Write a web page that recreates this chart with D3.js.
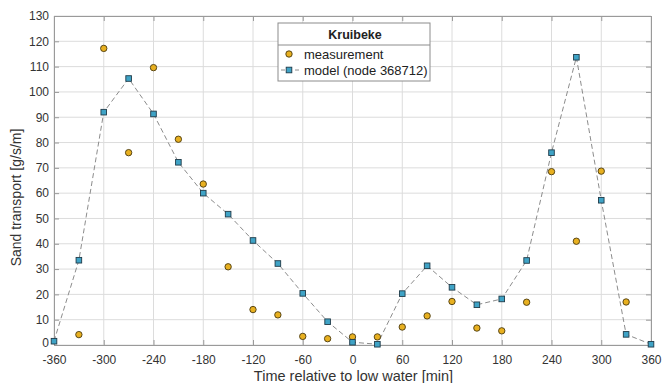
<!DOCTYPE html>
<html><head><meta charset="utf-8">
<script src="https://cdn.jsdelivr.net/npm/d3@7"></script>
<style>body{margin:0;background:#fff}svg{display:block;font-family:"Liberation Sans",Arial,sans-serif}</style>
</head><body><svg id="c" width="671" height="383"></svg>
<script>
const modelTimes = [-360,-330,-300,-270,-240,-210,-180,-150,-120,-90,-60,-30,0,30,60,90,120,150,180,210,240,270,300,330,360];
const modelValues = [1.5,33.5,92,105.3,91.3,72.2,60,51.7,41.3,32.2,20.4,9.2,1.1,0.3,20.3,31.3,22.8,15.9,18.2,33.4,76,113.7,57.2,4.2,0.3];
const measTimes = [-330,-300,-270,-240,-210,-180,-150,-120,-90,-60,-30,0,30,60,90,120,150,180,210,240,270,300,330];
const measValues = [4.1,117.2,76,109.6,81.3,63.6,30.9,14,11.9,3.4,2.5,3.2,3.2,7.1,11.5,17.2,6.7,5.6,16.9,68.5,41,68.7,17];
const xTicks = [-360,-300,-240,-180,-120,-60,0,60,120,180,240,300,360];
const yTicks = [0,10,20,30,40,50,60,70,80,90,100,110,120,130];
const legendTitle = "Kruibeke";
const legendLabels = ["measurement","model (node 368712)"];

const svg = d3.select("#c");
const L=54, R=651, T=16, B=345;
const x = d3.scaleLinear().domain([-360,360]).range([L,R]);
const y = d3.scaleLinear().domain([0,130]).range([B,T]);
const gridC="#dcdcdc", axC="#9a9a9a", txtC="#333";
const fmt = d => String(d);

// grid
svg.append("g").selectAll("line").data(xTicks).join("line")
  .attr("x1",d=>x(d)).attr("x2",d=>x(d)).attr("y1",T).attr("y2",B).attr("stroke",gridC).attr("stroke-width",1);
svg.append("g").selectAll("line").data(yTicks).join("line")
  .attr("x1",L).attr("x2",R).attr("y1",d=>y(d)).attr("y2",d=>y(d)).attr("stroke",gridC).attr("stroke-width",1);

// axes
const ax = svg.append("g").attr("transform",`translate(0,${B})`)
  .call(d3.axisBottom(x).tickValues(xTicks).tickSize(-5).tickPadding(10).tickFormat(fmt));
const ay = svg.append("g").attr("transform",`translate(${L},0)`)
  .call(d3.axisLeft(y).tickValues(yTicks).tickSize(-5).tickPadding(5).tickFormat(fmt));
const axT = svg.append("g").attr("transform",`translate(0,${T})`)
  .call(d3.axisTop(x).tickValues(xTicks).tickSize(-5).tickFormat(""));
const ayR = svg.append("g").attr("transform",`translate(${R},0)`)
  .call(d3.axisRight(y).tickValues(yTicks).tickSize(-5).tickFormat(""));
[ax,ay,axT,ayR].forEach(g=>{
  g.selectAll("path").attr("stroke",axC);
  g.selectAll("line").attr("stroke",axC);
  g.selectAll("text").attr("fill",txtC).style("font-size","12px").style("font-family","'Liberation Sans',Arial,sans-serif");
});
ay.selectAll(".tick text").filter(d=>d===0).attr("dy","0.1em");

// model line
svg.append("path").datum(modelTimes.map((t,i)=>[t,modelValues[i]]))
  .attr("d",d3.line().x(d=>x(d[0])).y(d=>y(d[1])))
  .attr("fill","none").attr("stroke","#8c8c8c").attr("stroke-width",1).attr("stroke-dasharray","5,3");

// measurement markers
svg.append("g").selectAll("circle").data(measTimes.map((t,i)=>[t,measValues[i]])).join("circle")
  .attr("cx",d=>x(d[0])).attr("cy",d=>y(d[1])).attr("r",3.2)
  .attr("fill","#e8b020").attr("stroke","#4a3a10").attr("stroke-width",0.9);

// model markers
svg.append("g").selectAll("rect").data(modelTimes.map((t,i)=>[t,modelValues[i]])).join("rect")
  .attr("x",d=>x(d[0])-2.8).attr("y",d=>y(d[1])-2.8).attr("width",5.6).attr("height",5.6)
  .attr("fill","#3fa3c6").attr("stroke","#1f3a48").attr("stroke-width",0.9);

// axis labels
svg.append("text").attr("x",(L+R)/2+1).attr("y",381).attr("text-anchor","middle")
  .attr("fill",txtC).style("font-size","14.5px").text("Time relative to low water [min]");
svg.append("text").attr("transform",`translate(21,${(T+B)/2+17}) rotate(-90)`).attr("text-anchor","middle")
  .attr("fill",txtC).style("font-size","14px").text("Sand transport [g/s/m]");

// legend
const lg = svg.append("g");
const lx=278, ly=23, lw=152, lh=58;
lg.append("rect").attr("x",lx).attr("y",ly).attr("width",lw).attr("height",lh).attr("fill","#fff").attr("stroke","#8c8c8c");
lg.append("line").attr("x1",lx).attr("x2",lx+lw).attr("y1",ly+22).attr("y2",ly+22).attr("stroke","#8c8c8c");
lg.append("text").attr("x",lx+lw/2+1).attr("y",ly+16).attr("text-anchor","middle").attr("fill","#222")
  .style("font-size","12.5px").style("font-weight","bold").text(legendTitle);
lg.append("circle").attr("cx",lx+11).attr("cy",ly+31).attr("r",3.2).attr("fill","#e8b020").attr("stroke","#4a3a10").attr("stroke-width",0.9);
lg.append("line").attr("x1",lx+3).attr("x2",lx+22).attr("y1",ly+47).attr("y2",ly+47).attr("stroke","#8c8c8c").attr("stroke-dasharray","4,3");
lg.append("rect").attr("x",lx+8.2).attr("y",ly+44.2).attr("width",5.6).attr("height",5.6).attr("fill","#3fa3c6").attr("stroke","#1f3a48").attr("stroke-width",0.9);
lg.selectAll("text.lab").data(legendLabels).join("text").attr("class","lab")
  .attr("x",lx+26).attr("y",(d,i)=>ly+35.5+i*16).attr("fill","#222").style("font-size","13px").text(d=>d);
</script></body></html>
